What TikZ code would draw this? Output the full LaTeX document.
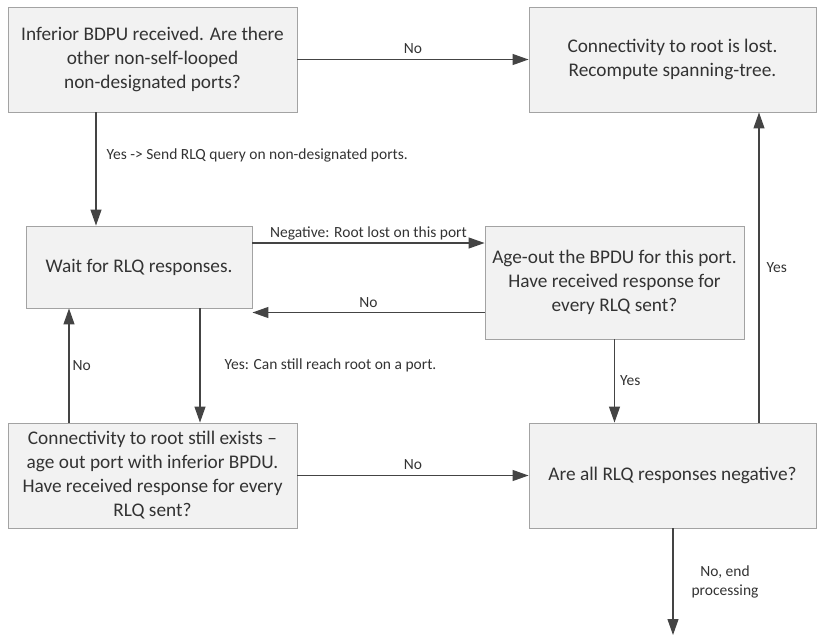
\documentclass[tikz,border=0pt]{standalone}
\usepackage{fontspec}
\setmainfont{Carlito}
\usetikzlibrary{arrows.meta,positioning}

\definecolor{boxfill}{HTML}{F2F2F2}
\definecolor{boxline}{HTML}{A3A3A3}
\definecolor{arrowgray}{HTML}{444444}
\definecolor{textgray}{HTML}{333333}

\begin{document}
\begin{tikzpicture}[
  x=1pt, y=-1pt,
  box/.style={rectangle, draw=boxline, fill=boxfill, line width=0.9pt, text=textgray, align=center, inner sep=0pt, font=\fontsize{19.3}{24}\selectfont},
  lbl/.style={font=\fontsize{15.5}{19}\selectfont, text=textgray, inner sep=2pt, align=center},
  line/.style={draw=arrowgray, line width=1.2pt, -{Triangle[length=16pt, width=11pt]}}
]
  \useasboundingbox (0,0) rectangle (817,638);

  % Boxes
  \node[box, minimum width=289pt, minimum height=105pt] (inferior) at (152.5, 59.5)
    {Inferior BDPU received. Are there\\ other non-self-looped\\ non-designated ports?};
  \node[box, minimum width=287pt, minimum height=105pt] (lost) at (672.5, 59.5)
    {Connectivity to root is lost.\\ Recompute spanning-tree.};
  \node[box, minimum width=226pt, minimum height=82pt] (wait) at (139, 267)
    {Wait for RLQ responses.};
  \node[box, minimum width=259pt, minimum height=113pt] (ageout) at (614.5, 282.5)
    {Age-out the BPDU for this port.\\ Have received response for\\ every RLQ sent?};
  \node[box, minimum width=289pt, minimum height=105pt] (conn) at (152.5, 475.5)
    {Connectivity to root still exists --\\ age out port with inferior BPDU.\\ Have received response for every\\ RLQ sent?};
  \node[box, minimum width=287pt, minimum height=105pt] (allneg) at (672.5, 475.5)
    {Are all RLQ responses negative?};

  % Helper points on the box borders
  \coordinate (yesA) at ([xshift=-56.5pt]inferior.south);
  \coordinate (negA) at ([yshift=24pt]wait.east);
  \coordinate (noA) at ([yshift=-30pt]ageout.west);
  \coordinate (reachA) at ([xshift=61pt]wait.south);
  \coordinate (retryA) at ([xshift=-83.5pt]conn.north);
  \coordinate (lostA) at ([xshift=86.5pt]allneg.north);
  \coordinate (endA) at (673, 635);

  % Connectors
  \draw[line] (inferior.east) -- (lost.west)
    node[lbl, midway, above=3pt] {No};
  \draw[line] (yesA) -- (yesA |- wait.north)
    node[lbl, pos=0.38, right=8pt] {Yes -> Send RLQ query on non-designated ports.};
  \draw[line] (negA) -- (negA -| ageout.west)
    node[lbl, midway, above=0pt] {Negative: Root lost on this port};
  \draw[line] (noA) -- (noA -| wait.east)
    node[lbl, midway, above=2pt] {No};
  \draw[line] (ageout.south) -- (ageout.south |- allneg.north)
    node[lbl, midway, right=3pt] {Yes};
  \draw[line] (lostA) -- (lostA |- lost.south)
    node[lbl, midway, right=5pt] {Yes};
  \draw[line] (reachA) -- (reachA |- conn.north)
    node[lbl, midway, right=22pt] {Yes: Can still reach root on a port.};
  \draw[line] (retryA) -- (retryA |- wait.south)
    node[lbl, midway, right=1pt] {No};
  \draw[line] (conn.east) -- (allneg.west)
    node[lbl, midway, above=3pt] {No};
  \draw[line] (allneg.south -| endA) -- (endA)
    node[lbl, pos=0.5, right=16pt] {No, end\\ processing};

\end{tikzpicture}
\end{document}
